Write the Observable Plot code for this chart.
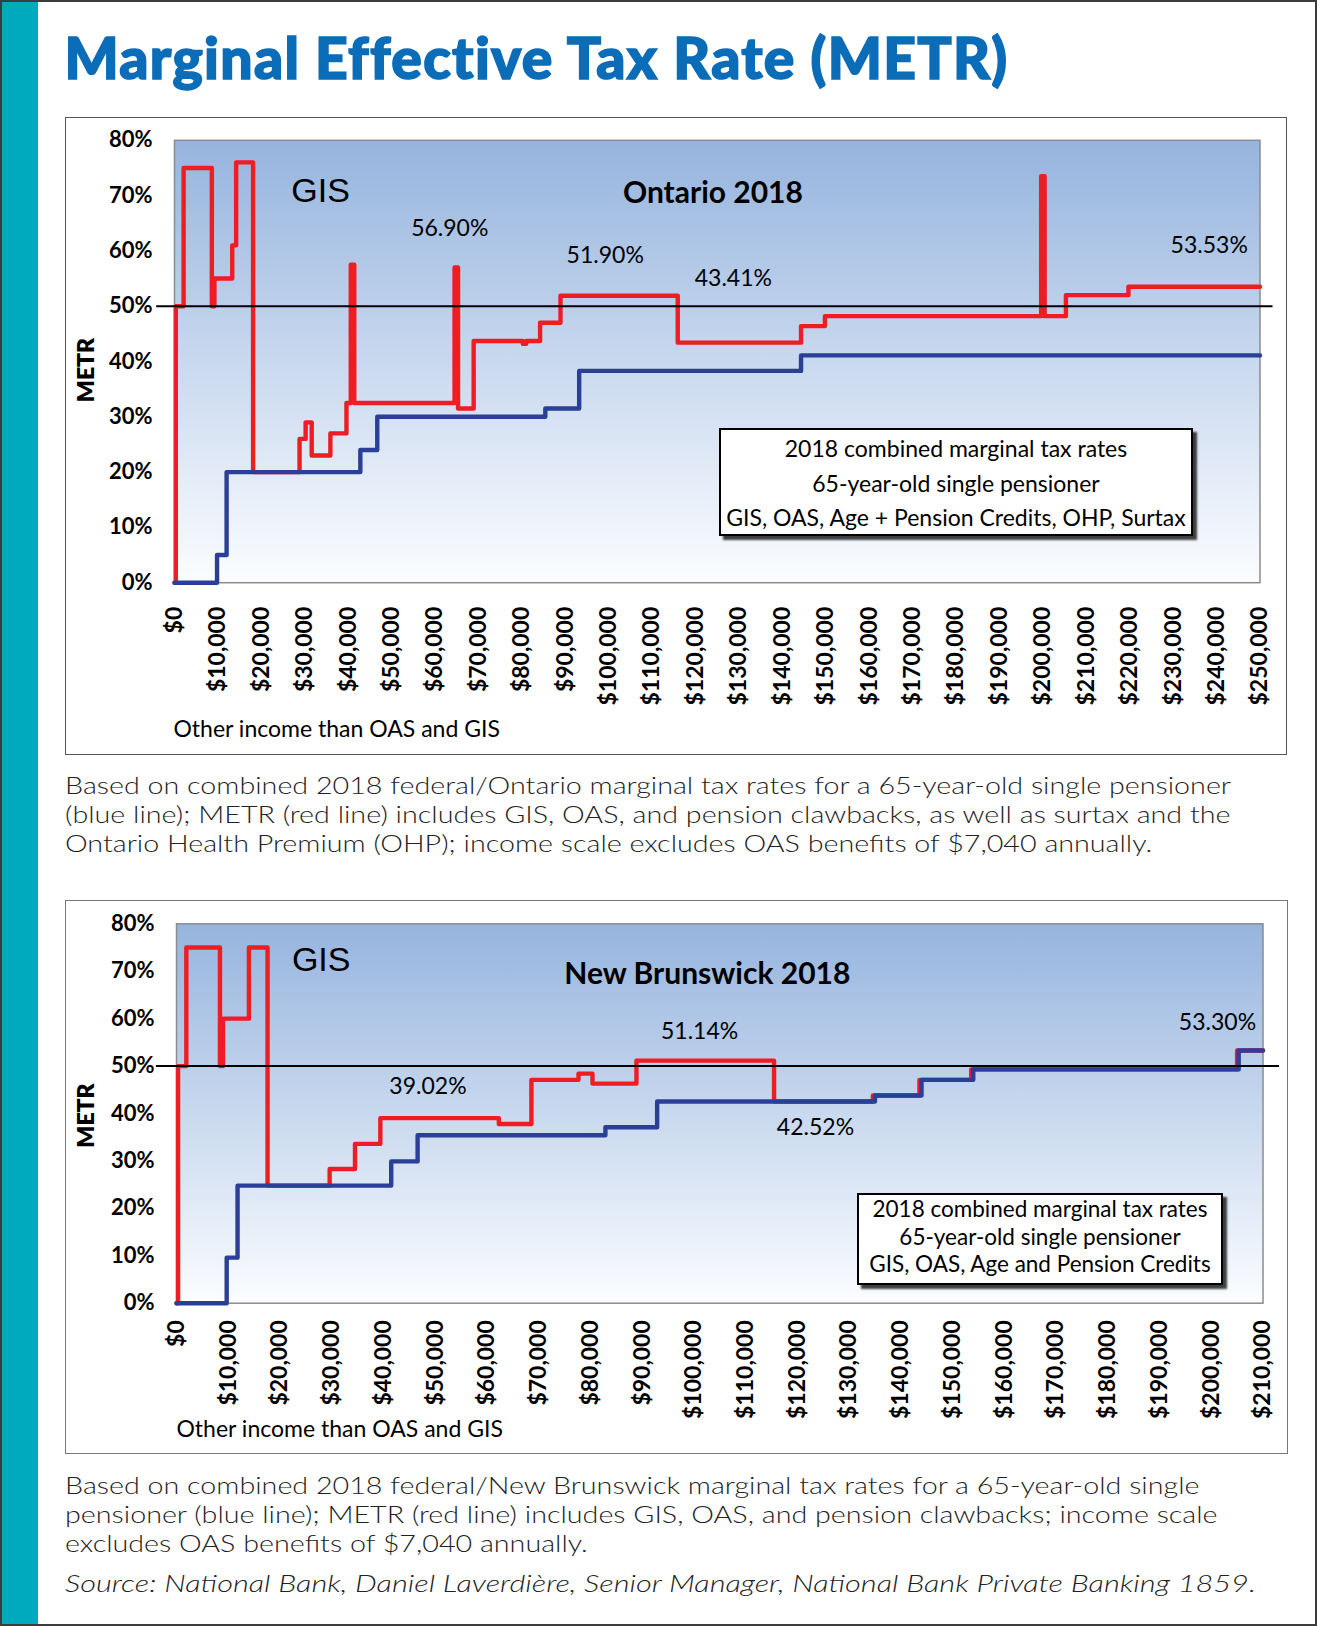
<!DOCTYPE html>
<html>
<head>
<meta charset="utf-8">
<script src="https://cdn.jsdelivr.net/npm/d3@7"></script>
<script src="https://cdn.jsdelivr.net/npm/@observablehq/plot@0.6"></script>
<style>
  html, body { margin: 0; padding: 0; background: #fff; }
  #page { position: relative; width: 1317px; height: 1626px; overflow: hidden; font-family: Lato, sans-serif; background: #fff; }
  .abs { position: absolute; white-space: nowrap; }
  .box { position: absolute; box-sizing: border-box; }
  svg { overflow: visible; }
</style>
</head>
<body>
<div id="page"></div>
<script>
// ---------------- DATA ----------------
// Ontario 2018 – METR (red line): income where a step starts, rate (%) from there on
const onMetrIncome = [0, 300, 2100, 8600, 9200, 13300, 14200, 18100, 28800, 30200, 31600, 35900, 39600, 40600, 41400, 64500, 65300, 68900, 80200, 81000, 84200, 88900, 115900, 144300, 149800, 199600, 200400, 205300, 219700, 250000];
const onMetrRate   = [0, 50, 75, 50, 55, 61, 76, 20, 26, 29, 23, 27, 32.5, 57.5, 32.5, 57, 31.5, 43.7, 43.2, 43.7, 47, 51.9, 43.41, 46.4, 48.2, 73.5, 48.2, 52, 53.53, 53.53];
// Ontario 2018 – combined marginal tax rate (blue line)
const onTaxIncome = [0, 9800, 12000, 42800, 46700, 85400, 93200, 144300, 250000];
const onTaxRate   = [0, 5, 20, 24, 30, 31.5, 38.3, 41.1, 41.1];

// New Brunswick 2018 – METR (red line)
const nbMetrIncome = [0, 300, 1900, 8400, 9000, 14000, 17600, 29600, 34500, 39400, 62300, 68600, 77700, 80400, 88900, 115500, 134600, 143600, 153600, 205000, 210000];
const nbMetrRate   = [0, 50, 75, 50, 60, 75, 24.8, 28.3, 33.6, 39.02, 37.8, 47.1, 48.4, 46.3, 51.14, 42.52, 43.8, 47.1, 49.3, 53.3, 53.3];
// New Brunswick 2018 – combined marginal tax rate (blue line)
const nbTaxIncome = [0, 9700, 11800, 41500, 46600, 82900, 92900, 135000, 144000, 154000, 205300, 210000];
const nbTaxRate   = [0, 9.6, 24.8, 29.9, 35.4, 37.1, 42.52, 43.8, 47.1, 49.3, 53.3, 53.3];

const yTicks = [0, 10, 20, 30, 40, 50, 60, 70, 80];
const onXTicks = d3.range(0, 250001, 10000);
const nbXTicks = d3.range(0, 210001, 10000);

const titleText = "Marginal Effective Tax Rate (METR)";
const xAxisTitle = "Other income than OAS and GIS";
const yAxisTitle = "METR";
const onLegend = ["2018 combined marginal tax rates", "65-year-old single pensioner", "GIS, OAS, Age + Pension Credits, OHP, Surtax"];
const nbLegend = ["2018 combined marginal tax rates", "65-year-old single pensioner", "GIS, OAS, Age and Pension Credits"];
const onCaption = [
  "Based on combined 2018 federal/Ontario marginal tax rates for a 65-year-old single pensioner",
  "(blue line); METR (red line) includes GIS, OAS, and pension clawbacks, as well as surtax and the",
  "Ontario Health Premium (OHP); income scale excludes OAS benefits of $7,040 annually."
];
const nbCaption = [
  "Based on combined 2018 federal/New Brunswick marginal tax rates for a 65-year-old single",
  "pensioner (blue line); METR (red line) includes GIS, OAS, and pension clawbacks; income scale",
  "excludes OAS benefits of $7,040 annually."
];
const sourceText = "Source: National Bank, Daniel Laverdière, Senior Manager, National Bank Private Banking 1859.";

// ---------------- BUILD ----------------
const toRows = (inc, rate) => inc.map((d, i) => ({income: d, rate: rate[i]}));
const RED = "#ee1d24", BLUE = "#2b3f98";
const page = document.getElementById("page");

function div(cls, css) {
  const e = document.createElement("div");
  e.className = cls;
  Object.assign(e.style, css);
  page.appendChild(e);
  return e;
}

function measure(text, size, weight, style, family) {
  const el = document.createElement("span");
  Object.assign(el.style, {position: "absolute", visibility: "hidden", whiteSpace: "nowrap", fontFamily: family, fontSize: size + "px", fontWeight: weight, fontStyle: style});
  el.textContent = text;
  page.appendChild(el);
  const w = el.getBoundingClientRect().width;
  page.removeChild(el);
  return w;
}

// place one line (string) or several lines (array) by the baseline of the first line
function placeText(text, o) {
  const lines = Array.isArray(text) ? text : [text];
  const el = document.createElement("div");
  el.className = "abs";
  Object.assign(el.style, {
    left: "0px", top: "0px", fontSize: o.size + "px", fontWeight: o.weight || 400,
    fontStyle: o.style || "normal", color: o.color || "#222", fontFamily: o.family || "Lato",
    lineHeight: o.lineHeight ? o.lineHeight + "px" : "1", letterSpacing: (o.spacing || 0) + "px"
  });
  if (o.stroke) el.style.webkitTextStroke = o.stroke;
  if (o.scaleX) { el.style.transformOrigin = "0 0"; el.style.transform = `scaleX(${o.scaleX})`; }
  const probe = document.createElement("span");
  probe.style.cssText = "display:inline-block;width:0;height:0;vertical-align:baseline;";
  lines.forEach((t, i) => {
    if (i > 0) el.appendChild(document.createElement("br"));
    el.appendChild(document.createTextNode(t));
    if (i === 0) el.appendChild(probe);
  });
  page.appendChild(el);
  let w = el.getBoundingClientRect().width;
  if (o.fit) {
    const s = (o.fit - w) / lines[0].length + (o.spacing || 0);
    el.style.letterSpacing = s + "px";
    w = el.getBoundingClientRect().width;
  }
  const pg = page.getBoundingClientRect();
  const pr = probe.getBoundingClientRect();
  const left = o.anchor === "middle" ? o.x - w / 2 : o.x;
  el.style.left = left + "px";
  el.style.top = (o.baseline - (pr.top - pg.top)) + "px";
  return el;
}

function gradientDefs(id) {
  return () => {
    const defs = d3.create("svg:defs");
    const g = defs.append("linearGradient").attr("id", id)
      .attr("x1", 0).attr("y1", 0).attr("x2", 0).attr("y2", 1);
    g.append("stop").attr("offset", "0%").attr("stop-color", "#96b4de");
    g.append("stop").attr("offset", "100%").attr("stop-color", "#fbfdff");
    return defs.node();
  };
}

function makeChart(cfg) {
  return Plot.plot({
    width: cfg.width, height: cfg.height,
    marginLeft: cfg.ml, marginRight: cfg.mr, marginTop: cfg.mt, marginBottom: cfg.mb,
    x: {domain: cfg.xDomain},
    y: {domain: [0, 80]},
    style: {background: "transparent", fontFamily: "Lato", color: "#000", overflow: "visible"},
    marks: [
      gradientDefs(cfg.id),
      Plot.frame({fill: `url(#${cfg.id})`, stroke: "#8c8c8c", strokeWidth: 1.5}),
      Plot.line(cfg.red, {x: "income", y: "rate", curve: "step-after", stroke: RED, strokeWidth: 4.4, strokeLinejoin: "round"}),
      Plot.line(cfg.blue, {x: "income", y: "rate", curve: "step-after", stroke: BLUE, strokeWidth: 4.4, strokeLinejoin: "round"}),
      Plot.ruleY([50], {x1: cfg.ruleX[0], x2: cfg.ruleX[1], stroke: "#000", strokeWidth: 2}),
      Plot.text(["GIS"], {x: cfg.gis[0], y: cfg.gis[1], text: d => d, textAnchor: "start", fontSize: 34, fontFamily: "Liberation Sans", fill: "#000"}),
      Plot.text([cfg.name], {x: cfg.nameAt[0], y: cfg.nameAt[1], text: d => d, fontSize: 30, fontWeight: "bold", fill: "#000"}),
      Plot.text(cfg.pct, {x: "x", y: "y", text: "t", fontSize: 23, fill: "#000"}),
      Plot.text([yAxisTitle], {frameAnchor: "left", textAnchor: "middle", dx: cfg.yLab[0], dy: cfg.yLab[1], rotate: -90, text: d => d, fontSize: 23, fontWeight: 800, fill: "#000"}),
      Plot.text([xAxisTitle], {frameAnchor: "bottom-left", textAnchor: "start", dx: cfg.xLab[0], dy: cfg.xLab[1], text: d => d, fontSize: 23, fill: "#000"}),
      Plot.axisY({ticks: yTicks, tickFormat: d => d + "%", tickSize: 0, tickPadding: 22, fontSize: 22, fontWeight: "bold", label: null}),
      Plot.axisX({ticks: cfg.xTicks, tickFormat: d3.format("$,"), tickSize: 0, tickPadding: cfg.xPad, tickRotate: -90, fontSize: 23, fontWeight: "bold", label: null})
    ]
  });
}

// frame pieces
div("box", {left: "0px", top: "0px", width: "38px", height: "1626px", background: "#00aabe"});
div("box", {left: "0px", top: "0px", width: "1317px", height: "1626px", border: "2px solid #3c3c3c"});

// title
placeText(titleText, {x: 64.5, baseline: 79, size: 57, weight: 900, color: "#0b6cb8", fit: 943, stroke: "1.6px #0b6cb8"});

// chart 1 (Ontario)
div("box", {left: "64.5px", top: "116.5px", width: "1222px", height: "638.5px", border: "1.5px solid #555", background: "#fff"});
const c1 = makeChart({
  id: "gradOn", width: 1222, height: 638.5, ml: 109, mr: 27.5, mt: 22.8, mb: 173.3,
  xDomain: [0, 250000], xTicks: onXTicks, xPad: 24, ruleX: [-4100, 253000],
  red: toRows(onMetrIncome, onMetrRate), blue: toRows(onTaxIncome, onTaxRate),
  gis: [26900, 70.9], name: "Ontario 2018", nameAt: [124000, 70.4],
  pct: [{x: 63400, y: 64.1, t: "56.90%"}, {x: 99200, y: 59.2, t: "51.90%"}, {x: 128700, y: 55.0, t: "43.41%"}, {x: 238300, y: 60.9, t: "53.53%"}],
  yLab: [-87.5, 8.5], xLab: [-1, 154]
});
Object.assign(c1.style, {position: "absolute", left: "64.5px", top: "116.5px"});
page.appendChild(c1);

// chart 2 (New Brunswick)
div("box", {left: "64.5px", top: "900px", width: "1223px", height: "553.5px", border: "1.5px solid #777", background: "#fff"});
const c2 = makeChart({
  id: "gradNb", width: 1223, height: 553.5, ml: 111, mr: 25.5, mt: 23.3, mb: 150.8,
  xDomain: [0, 210000], xTicks: nbXTicks, xPad: 17, ruleX: [-3900, 213200],
  red: toRows(nbMetrIncome, nbMetrRate), blue: toRows(nbTaxIncome, nbTaxRate),
  gis: [22300, 72.4], name: "New Brunswick 2018", nameAt: [102600, 69.4],
  pct: [{x: 48600, y: 45.6, t: "39.02%"}, {x: 101100, y: 57.2, t: "51.14%"}, {x: 123500, y: 37.1, t: "42.52%"}, {x: 201200, y: 59.1, t: "53.30%"}],
  yLab: [-89.5, 2], xLab: [0, 133.3]
});
Object.assign(c2.style, {position: "absolute", left: "64.5px", top: "900px"});
page.appendChild(c2);

// legends
div("box", {left: "719px", top: "428px", width: "474px", height: "108px", border: "2px solid #000", background: "#fff", boxShadow: "4px 4px 2px rgba(0,0,0,0.75)"});
placeText(onLegend, {x: 956, anchor: "middle", baseline: 457, size: 23, color: "#000", lineHeight: 34.5}).style.textAlign = "center";
div("box", {left: "857px", top: "1193px", width: "366px", height: "92px", border: "2px solid #000", background: "#fff", boxShadow: "4px 4px 2px rgba(0,0,0,0.75)"});
placeText(nbLegend, {x: 1040, anchor: "middle", baseline: 1217, size: 22.5, color: "#000", lineHeight: 27.5}).style.textAlign = "center";

// captions: light sans, stretched horizontally to the reference line length
const capFamily = "Lato, sans-serif";
const capSize = 24;
const capScale = 1166 / measure(onCaption[0], capSize, 300, "normal", capFamily);
placeText(onCaption, {x: 64.5, baseline: 794, size: capSize, weight: 300, color: "#222", family: capFamily, lineHeight: 29, scaleX: capScale});
placeText(nbCaption, {x: 64.5, baseline: 1494, size: capSize, weight: 300, color: "#222", family: capFamily, lineHeight: 29, scaleX: capScale});
const srcScale = 1191 / measure(sourceText, capSize, 300, "italic", capFamily);
placeText(sourceText, {x: 64.5, baseline: 1592, size: capSize, weight: 300, style: "italic", color: "#222", family: capFamily, scaleX: srcScale});
</script>
</body>
</html>
